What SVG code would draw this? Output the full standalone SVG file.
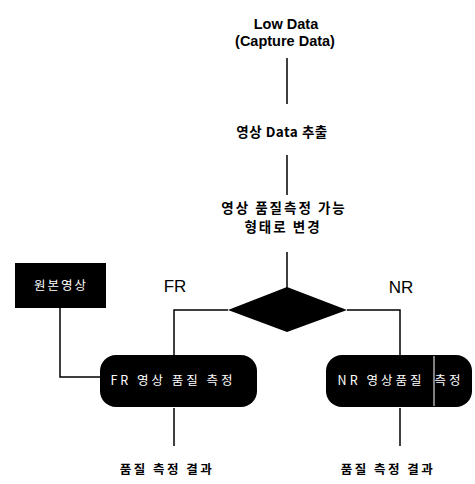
<svg xmlns="http://www.w3.org/2000/svg" width="475" height="484" viewBox="0 0 475 484">
<style>
.t{font-family:"Noto Sans CJK KR","Liberation Sans",sans-serif;font-weight:bold;fill:#000;text-anchor:middle}
.e{font-family:"Liberation Sans","Noto Sans CJK KR",sans-serif;fill:#000;text-anchor:middle}
.w{font-family:"Noto Sans CJK KR","Liberation Sans",sans-serif;fill:#fff;text-anchor:middle;font-size:12.5px}
.c{fill:none;stroke:#000;stroke-width:1.5}
</style>
<rect width="475" height="484" fill="#fff"/>
<g id="connectors">
<path class="c" d="M287 58V104"/>
<path class="c" d="M287 155V195"/>
<path class="c" d="M287 252V288"/>
<path class="c" d="M228 310H174V355"/>
<path class="c" d="M347 310H400V355"/>
<path class="c" d="M60 308V377H100"/>
<path class="c" d="M174 408V446"/>
<path class="c" d="M400 408V446"/>
</g>
<g id="lowdata">
<text class="e" x="286" y="29" font-size="14.5" font-weight="bold">Low Data</text>
<text class="e" x="285" y="46" font-size="14.5" font-weight="bold">(Capture Data)</text>
</g>
<g id="extract">
<text class="t" x="282" y="137" font-size="13.5" letter-spacing="0.5">영상 Data 추출</text>
</g>
<g id="convert">
<text class="t" x="284" y="213" font-size="13.5" letter-spacing="2">영상 품질측정 가능</text>
<text class="t" x="283" y="232" font-size="13.5" letter-spacing="2">형태로 변경</text>
</g>
<g id="decision">
<polygon points="287,287 347,310 287,332 228,310" fill="#000"/>
<text class="e" x="175" y="292" font-size="17">FR</text>
<text class="e" x="401" y="293" font-size="17">NR</text>
</g>
<g id="original">
<rect x="15" y="263" width="91" height="45" fill="#000"/>
<text class="w" x="61" y="290" letter-spacing="2">원본영상</text>
</g>
<g id="fr">
<rect x="100" y="355" width="157" height="52" rx="16" fill="#000"/>
<text class="w" x="173" y="385" letter-spacing="3">FR 영상 품질 측정</text>
</g>
<g id="nr">
<rect x="326" y="355" width="146" height="52" rx="16" fill="#000"/>
<line x1="434" y1="356" x2="434" y2="406" stroke="#fff" stroke-width="1"/>
<text class="w" x="381" y="385" letter-spacing="3">NR 영상품질</text>
<text class="w" x="449" y="385" letter-spacing="3">측정</text>
</g>
<g id="result-fr">
<text class="t" x="167" y="474" font-size="12.5" letter-spacing="2.5">품질 측정 결과</text>
</g>
<g id="result-nr">
<text class="t" x="388" y="474" font-size="12.5" letter-spacing="2.5">품질 측정 결과</text>
</g>
</svg>
